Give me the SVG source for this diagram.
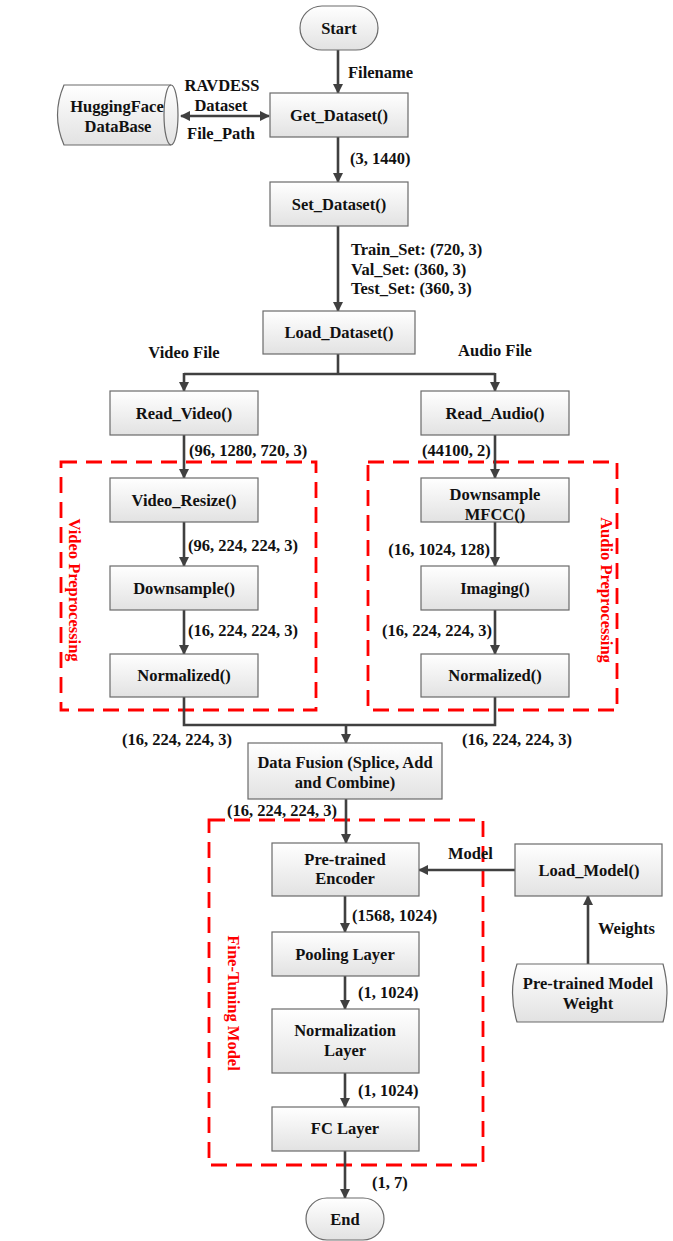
<svg xmlns="http://www.w3.org/2000/svg" width="673" height="1241" viewBox="0 0 673 1241">
<style>
text{font-family:"Liberation Serif","Times New Roman",serif;font-weight:bold;font-size:16.5px;fill:#111}
.c{text-anchor:middle}
.e{text-anchor:end}
.box{fill:url(#g);stroke:#6a6a6a;stroke-width:1.2}
.ln{fill:none;stroke:#404040;stroke-width:2.6}
.ar{fill:none;stroke:#404040;stroke-width:2.6;marker-end:url(#ah)}
.grp{fill:none;stroke:#ff0000;stroke-width:2.8;stroke-dasharray:16 9}
.red{fill:#ff0000;font-size:16.5px}
</style>
<defs>
<linearGradient id="g" x1="0" y1="0" x2="0" y2="1">
<stop offset="0" stop-color="#ffffff"/>
<stop offset="1" stop-color="#e2e2e2"/>
</linearGradient>
<marker id="ah" viewBox="0 0 10 10" refX="9" refY="5" markerWidth="4" markerHeight="4" orient="auto-start-reverse" markerUnits="strokeWidth">
<path d="M0,0 L10,5 L0,10 z" fill="#404040"/>
</marker>
</defs>

<g id="groups">
<rect class="grp" x="61" y="462" width="255" height="248"/>
<rect class="grp" x="368" y="462" width="249" height="248"/>
<rect class="grp" x="209" y="820" width="274" height="345"/>
<text class="red c" dominant-baseline="central" transform="translate(74,590) rotate(90)">Video Preprocessing</text>
<text class="red c" dominant-baseline="central" transform="translate(606,590) rotate(90)">Audio Preprocessing</text>
<text class="red c" dominant-baseline="central" transform="translate(233,1003) rotate(90)">Fine-Tuning Model</text>
</g>

<g id="connectors">
<line class="ar" x1="338" y1="50" x2="338" y2="93"/>
<line class="ar" x1="181" y1="116" x2="269" y2="116" style="marker-start:url(#ah)"/>
<line class="ar" x1="338" y1="137" x2="338" y2="182"/>
<line class="ar" x1="338" y1="226" x2="338" y2="311"/>
<polyline class="ln" points="338,354 338,374"/>
<polyline class="ln" points="184,374 495,374"/>
<line class="ar" x1="184" y1="373" x2="184" y2="391"/>
<line class="ar" x1="495" y1="373" x2="495" y2="391"/>
<line class="ar" x1="184" y1="435" x2="184" y2="478"/>
<line class="ar" x1="495" y1="435" x2="495" y2="478"/>
<line class="ar" x1="184" y1="522" x2="184" y2="566"/>
<line class="ar" x1="495" y1="522" x2="495" y2="566"/>
<line class="ar" x1="184" y1="610" x2="184" y2="654"/>
<line class="ar" x1="495" y1="610" x2="495" y2="654"/>
<polyline class="ln" points="184,697 184,725 495,725 495,697"/>
<line class="ar" x1="346" y1="725" x2="346" y2="743"/>
<line class="ar" x1="346" y1="799" x2="346" y2="843"/>
<line class="ar" x1="515" y1="870" x2="419" y2="870"/>
<line class="ar" x1="588" y1="964" x2="588" y2="896"/>
<line class="ar" x1="345" y1="896" x2="345" y2="932"/>
<line class="ar" x1="345" y1="976" x2="345" y2="1009"/>
<line class="ar" x1="345" y1="1073" x2="345" y2="1107"/>
<line class="ar" x1="345" y1="1151" x2="345" y2="1198"/>
</g>

<g id="labels">
<text x="348" y="77.5">Filename</text>
<text class="c" x="222" y="90.5">RAVDESS</text>
<text class="c" x="221" y="110.5">Dataset</text>
<text class="c" x="221" y="139">File_Path</text>
<text x="350" y="163.5">(3, 1440)</text>
<text x="351" y="254.5">Train_Set: (720, 3)</text>
<text x="351" y="274.5">Val_Set: (360, 3)</text>
<text x="351" y="293.5">Test_Set: (360, 3)</text>
<text class="c" x="184" y="358">Video File</text>
<text class="c" x="495" y="356">Audio File</text>
<text x="189" y="455.5">(96, 1280, 720, 3)</text>
<text x="422" y="455.5">(44100, 2)</text>
<text x="188" y="550.5">(96, 224, 224, 3)</text>
<text x="188" y="635.5">(16, 224, 224, 3)</text>
<text class="e" x="490" y="554.5">(16, 1024, 128)</text>
<text class="e" x="492" y="635.5">(16, 224, 224, 3)</text>
<text x="122" y="744.5">(16, 224, 224, 3)</text>
<text x="462" y="744.5">(16, 224, 224, 3)</text>
<text x="227" y="815.5">(16, 224, 224, 3)</text>
<text x="448" y="858.5">Model</text>
<text x="598" y="933.5">Weights</text>
<text x="352" y="920.5">(1568, 1024)</text>
<text x="358" y="998">(1, 1024)</text>
<text x="358" y="1096">(1, 1024)</text>
<text x="372" y="1188">(1, 7)</text>
</g>

<g id="start"><rect class="box" x="300" y="6" width="78" height="44" rx="22"/><text class="c" x="339" y="33.5">Start</text></g>
<g id="huggingface">
<path class="box" d="M64,85 L171,85 A7,30 0 0 1 171,145 L64,145 Q51,115 64,85 Z"/>
<path fill="none" stroke="#6a6a6a" stroke-width="1.2" d="M171,85 A7,30 0 0 0 171,145"/>
<text class="c" x="117" y="112">HuggingFace</text>
<text class="c" x="118" y="132">DataBase</text>
</g>
<g id="get_dataset"><rect class="box" x="270" y="93" width="138" height="44"/><text class="c" x="339" y="120.5">Get_Dataset()</text></g>
<g id="set_dataset"><rect class="box" x="270" y="182" width="138" height="44"/><text class="c" x="339" y="209.5">Set_Dataset()</text></g>
<g id="load_dataset"><rect class="box" x="263" y="311" width="152" height="43"/><text class="c" x="339" y="338">Load_Dataset()</text></g>
<g id="read_video"><rect class="box" x="110" y="391" width="148" height="44"/><text class="c" x="184" y="418.5">Read_Video()</text></g>
<g id="read_audio"><rect class="box" x="421" y="391" width="148" height="44"/><text class="c" x="495" y="418.5">Read_Audio()</text></g>
<g id="video_resize"><rect class="box" x="110" y="478" width="148" height="44"/><text class="c" x="184" y="505.5">Video_Resize()</text></g>
<g id="downsample"><rect class="box" x="110" y="566" width="148" height="44"/><text class="c" x="184" y="593.5">Downsample()</text></g>
<g id="normalized_v"><rect class="box" x="110" y="654" width="148" height="43"/><text class="c" x="184" y="681">Normalized()</text></g>
<g id="downsample_mfcc"><rect class="box" x="421" y="478" width="148" height="44"/><text class="c" x="495" y="499.5">Downsample</text><text class="c" x="495" y="519.5">MFCC()</text></g>
<g id="imaging"><rect class="box" x="421" y="566" width="148" height="44"/><text class="c" x="495" y="593.5">Imaging()</text></g>
<g id="normalized_a"><rect class="box" x="421" y="654" width="148" height="43"/><text class="c" x="495" y="681">Normalized()</text></g>
<g id="data_fusion"><rect class="box" x="248" y="743" width="194" height="56"/><text class="c" x="345" y="767.5">Data Fusion (Splice, Add</text><text class="c" x="345" y="787.5">and Combine)</text></g>
<g id="encoder"><rect class="box" x="272" y="843" width="147" height="53"/><text class="c" x="345" y="864.5">Pre-trained</text><text class="c" x="345" y="884">Encoder</text></g>
<g id="load_model"><rect class="box" x="515" y="844" width="147" height="52"/><text class="c" x="589" y="875.5">Load_Model()</text></g>
<g id="weights"><path class="box" d="M517,964 L663,964 Q671,993 663,1022 L517,1022 Q508,993 517,964 Z"/><text class="c" x="588" y="988.5">Pre-trained Model</text><text class="c" x="588" y="1008.5">Weight</text></g>
<g id="pooling"><rect class="box" x="272" y="932" width="147" height="44"/><text class="c" x="345" y="959.5">Pooling Layer</text></g>
<g id="normalization"><rect class="box" x="272" y="1009" width="147" height="64"/><text class="c" x="345" y="1035.5">Normalization</text><text class="c" x="345" y="1056">Layer</text></g>
<g id="fc"><rect class="box" x="272" y="1107" width="147" height="44"/><text class="c" x="345" y="1134">FC Layer</text></g>
<g id="end"><rect class="box" x="306" y="1198" width="78" height="42" rx="21"/><text class="c" x="345" y="1225">End</text></g>
</svg>
